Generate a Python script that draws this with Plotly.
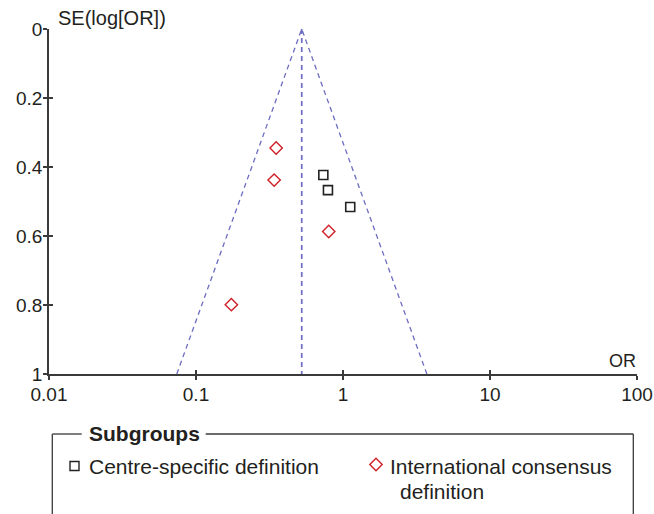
import plotly.graph_objects as go

# ---- data ----
square_or = [0.735, 0.79, 1.12]          # Centre-specific definition
square_se = [0.423, 0.467, 0.516]
diamond_or = [0.351, 0.340, 0.80, 0.174]  # International consensus definition
diamond_se = [0.345, 0.438, 0.587, 0.799]
pooled_or = [0.524, 0.524]
pooled_se = [0.0, 1.0]
funnel_or = [0.074, 0.524, 3.72]
funnel_se = [1.0, 0.0, 1.0]
x_tickvals = [0.01, 0.1, 1, 10, 100]
x_ticktext = ["0.01", "0.1", "1", "10", "100"]
y_tickvals = [0, 0.2, 0.4, 0.6, 0.8, 1]
y_ticktext = ["0", "0.2", "0.4", "0.6", "0.8", "1"]

# the page body margin is removed below, so the figure sits at (0, 0)
W, H = 654, 514
ML, MR, MT, MB = 49, 17, 29, 140
PW, PH = W - ML - MR, H - MT - MB

def px(x):  # page pixel -> paper
    return (x - ML) / PW

def py(y):
    return (H - MB - y) / PH

TXT = "#231f20"
AX = "#3a3a3a"
FUN = "#6d6dc2"
FONT = "Liberation Sans, Arial, sans-serif"

fig = go.Figure()
fig.add_trace(go.Scatter(x=funnel_or, y=funnel_se, mode="lines",
                         line=dict(color=FUN, width=1.3, dash="5px,4px"),
                         showlegend=False, hoverinfo="skip"))
fig.add_trace(go.Scatter(x=pooled_or, y=pooled_se, mode="lines",
                         line=dict(color=FUN, width=1.7, dash="5px,4px"),
                         showlegend=False, hoverinfo="skip",
                         xaxis="x2", yaxis="y2"))
fig.add_trace(go.Scatter(x=square_or, y=square_se, mode="markers",
                         name="Centre-specific definition",
                         marker=dict(symbol="square-open", size=9, color="#222222",
                                     line=dict(width=1.6, color="#222222")),
                         showlegend=False))
fig.add_trace(go.Scatter(x=diamond_or, y=diamond_se, mode="markers",
                         name="International consensus definition",
                         marker=dict(symbol="diamond-open", size=9.5, color="#cf2027",
                                     line=dict(width=1.4, color="#cf2027")),
                         showlegend=False))

common_x = dict(type="log", range=[-2, 2], tickvals=x_tickvals, showgrid=False,
                zeroline=False, ticklen=4, tickwidth=1.5, tickcolor=AX,
                automargin=False)
common_y = dict(range=[1, 0], tickvals=y_tickvals, showgrid=False,
                zeroline=False, ticklen=4, tickwidth=1.5, tickcolor=AX,
                automargin=False)

fig.update_layout(
    width=W, height=H,
    margin=dict(l=ML, r=MR, t=MT, b=MB, autoexpand=False),
    paper_bgcolor="white", plot_bgcolor="white",
    font=dict(family=FONT, size=19, color=TXT),
    xaxis=dict(**common_x, ticktext=x_ticktext, ticks="outside",
               showline=True, linecolor=AX, linewidth=1.6,
               ticklabelstandoff=-2,
               tickfont=dict(size=19, color=TXT)),
    yaxis=dict(**common_y, ticktext=y_ticktext, ticks="outside",
               showline=True, linecolor=AX, linewidth=1.6,
               ticklabelstandoff=-3,
               tickfont=dict(size=19, color=TXT)),
    xaxis2=dict(**common_x, overlaying="x", anchor="y2", ticks="inside",
                showticklabels=False, showline=False),
    yaxis2=dict(**common_y, overlaying="y", anchor="x2", ticks="inside",
                showticklabels=False, showline=False, side="left"),
    showlegend=False,
)

# axis titles
fig.add_annotation(text="SE(log[OR])", xref="paper", yref="paper",
                   x=px(56), y=py(18), xanchor="left", yanchor="middle",
                   showarrow=False, font=dict(size=20, color=TXT))
fig.add_annotation(text="OR", xref="paper", yref="paper",
                   x=px(638), y=py(361), xanchor="right", yanchor="middle",
                   showarrow=False, font=dict(size=18, color=TXT))

# custom legend box with title breaking the top border
lc = dict(color=AX, width=1.3)
fig.add_shape(type="line", xref="paper", yref="paper",
              x0=px(52.3), x1=px(81.7), y0=py(434), y1=py(434), line=lc)
fig.add_shape(type="line", xref="paper", yref="paper",
              x0=px(205.7), x1=px(633.3), y0=py(434), y1=py(434), line=lc)
fig.add_shape(type="line", xref="paper", yref="paper",
              x0=px(52.3), x1=px(52.3), y0=py(434), y1=py(530), line=lc)
fig.add_shape(type="line", xref="paper", yref="paper",
              x0=px(633.3), x1=px(633.3), y0=py(434), y1=py(530), line=lc)

fig.add_annotation(text="<b>Subgroups</b>", xref="paper", yref="paper",
                   x=px(87), y=py(433), xanchor="left", yanchor="middle",
                   showarrow=False, font=dict(size=21, color=TXT))

# legend symbols
fig.add_shape(type="rect", xref="paper", yref="paper",
              x0=px(70), x1=px(79), y0=py(461.5), y1=py(470.5),
              line=dict(color="#222222", width=1.4))
dx, dy = 6.2, 6.2
cx, cy = 376, 464.5
fig.add_shape(type="path", xref="paper", yref="paper",
              path=(f"M {px(cx)},{py(cy-dy)} L {px(cx+dx)},{py(cy)} "
                    f"L {px(cx)},{py(cy+dy)} L {px(cx-dx)},{py(cy)} Z"),
              line=dict(color="#cf2027", width=1.4))

fig.add_annotation(text="Centre-specific definition", xref="paper", yref="paper",
                   x=px(86.5), y=py(466), xanchor="left", yanchor="middle",
                   showarrow=False, font=dict(size=21, color=TXT))
fig.add_annotation(text="International consensus", xref="paper", yref="paper",
                   x=px(388), y=py(466), xanchor="left", yanchor="middle",
                   showarrow=False, font=dict(size=21, color=TXT))
fig.add_annotation(text="definition", xref="paper", yref="paper",
                   x=px(398), y=py(491), xanchor="left", yanchor="middle",
                   showarrow=False, font=dict(size=21, color=TXT))

fig.write_html(
    "out.html",
    config={"displayModeBar": False},
    post_script="document.body.style.margin='0';"
                "document.documentElement.style.overflow='hidden';",
)
